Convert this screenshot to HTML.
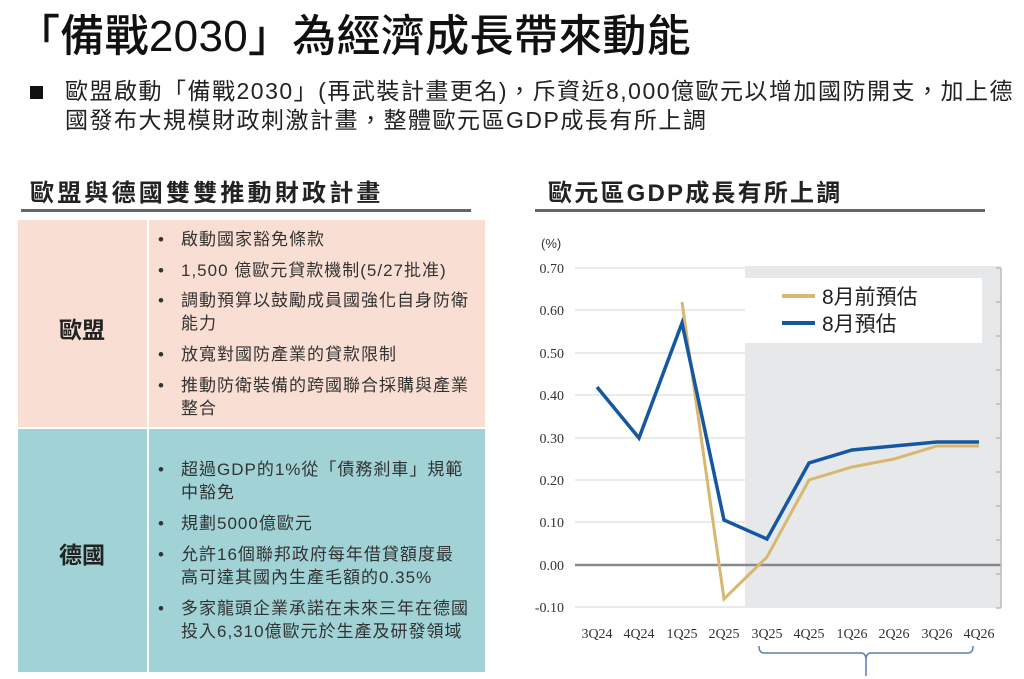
<!DOCTYPE html>
<html><head><meta charset="utf-8"><style>
body{margin:0;width:1024px;height:679px;background:#fff;position:relative;overflow:hidden;font-family:"Liberation Sans","Noto Sans CJK TC",sans-serif;color:#222}
.a{position:absolute;white-space:nowrap}
.b{position:absolute;left:158px;font-size:17px;line-height:23px;color:#333;letter-spacing:1px;white-space:nowrap}
.b span{position:absolute;left:0}
.b div{margin-left:23px}
</style></head><body>
<div class="a" style="left:16px;top:9px;font-size:44px;line-height:56px;color:#111;font-weight:500;letter-spacing:0.3px">「備戰2030」為經濟成長帶來動能</div>
<div class="a" style="left:30px;top:86px;width:13px;height:13px;background:#111"></div>
<div class="a" style="left:65px;top:77px;font-size:23px;line-height:29px;color:#222;letter-spacing:1.5px">歐盟啟動「備戰2030」(再武裝計畫更名)，斥資近8,000億歐元以增加國防開支，加上德<br>國發布大規模財政刺激計畫，整體歐元區GDP成長有所上調</div>

<div class="a" style="left:30px;top:173px;font-size:24px;font-weight:bold;color:#222;letter-spacing:3.2px">歐盟與德國雙雙推動財政計畫</div>
<div class="a" style="left:21px;top:209px;width:450px;height:3px;background:#666"></div>
<div class="a" style="left:548px;top:173px;font-size:24px;font-weight:bold;color:#222;letter-spacing:2.2px">歐元區GDP成長有所上調</div>
<div class="a" style="left:535px;top:209px;width:450px;height:3px;background:#666"></div>

<div class="a" style="left:18px;top:220px;width:129px;height:207px;background:#f9dfd3"></div>
<div class="a" style="left:149px;top:220px;width:336px;height:207px;background:#f9dfd3"></div>
<div class="a" style="left:18px;top:429px;width:129px;height:243px;background:#a0d2d6"></div>
<div class="a" style="left:149px;top:429px;width:336px;height:243px;background:#a0d2d6"></div>
<div class="a" style="left:59px;top:311px;font-size:23px;font-weight:bold;color:#222">歐盟</div>
<div class="a" style="left:59px;top:536px;font-size:23px;font-weight:bold;color:#222">德國</div>

<div class="b" style="top:228px"><span>•</span><div>啟動國家豁免條款</div></div>
<div class="b" style="top:259px"><span>•</span><div>1,500 億歐元貸款機制(5/27批准)</div></div>
<div class="b" style="top:289px"><span>•</span><div>調動預算以鼓勵成員國強化自身防衛<br>能力</div></div>
<div class="b" style="top:343px"><span>•</span><div>放寬對國防產業的貸款限制</div></div>
<div class="b" style="top:374px"><span>•</span><div>推動防衛裝備的跨國聯合採購與產業<br>整合</div></div>

<div class="b" style="top:458px"><span>•</span><div>超過GDP的1%從「債務剎車」規範<br>中豁免</div></div>
<div class="b" style="top:512px"><span>•</span><div>規劃5000億歐元</div></div>
<div class="b" style="top:543px"><span>•</span><div>允許16個聯邦政府每年借貸額度最<br>高可達其國內生產毛額的0.35%</div></div>
<div class="b" style="top:597px"><span>•</span><div>多家龍頭企業承諾在未來三年在德國<br>投入6,310億歐元於生產及研發領域</div></div>

<svg class="a" style="left:0;top:0" width="1024" height="679">
<rect x="745" y="266" width="256" height="342" fill="#e7e8ea"/>
<g stroke="#e3e3e3" stroke-width="1.5">
<line x1="575" y1="268" x2="745" y2="268"/><line x1="575" y1="310" x2="745" y2="310"/>
<line x1="575" y1="353" x2="745" y2="353"/><line x1="575" y1="395" x2="745" y2="395"/>
<line x1="575" y1="438" x2="745" y2="438"/><line x1="575" y1="480" x2="745" y2="480"/>
<line x1="575" y1="522" x2="745" y2="522"/><line x1="575" y1="607" x2="745" y2="607"/>
</g>
<rect x="745" y="278" width="237" height="65" fill="#fff"/>
<line x1="575" y1="565" x2="1001" y2="565" stroke="#888" stroke-width="2.5"/>
<line x1="1001" y1="268" x2="1001" y2="608" stroke="#bbb" stroke-width="1.5"/>
<g stroke="#bbb" stroke-width="1.5">
<line x1="996" y1="268" x2="1001" y2="268"/><line x1="996" y1="302" x2="1001" y2="302"/><line x1="996" y1="336" x2="1001" y2="336"/><line x1="996" y1="370" x2="1001" y2="370"/><line x1="996" y1="404" x2="1001" y2="404"/><line x1="996" y1="438" x2="1001" y2="438"/><line x1="996" y1="472" x2="1001" y2="472"/><line x1="996" y1="506" x2="1001" y2="506"/><line x1="996" y1="540" x2="1001" y2="540"/><line x1="996" y1="574" x2="1001" y2="574"/><line x1="996" y1="608" x2="1001" y2="608"/>
</g>
<g font-family="Liberation Serif,serif" font-size="14" fill="#333" text-anchor="end">
<text x="564" y="273">0.70</text><text x="564" y="315">0.60</text><text x="564" y="358">0.50</text><text x="564" y="400">0.40</text><text x="564" y="443">0.30</text><text x="564" y="485">0.20</text><text x="564" y="527">0.10</text><text x="564" y="570">0.00</text><text x="564" y="612">-0.10</text>
</g>
<text x="541" y="248" font-size="13" fill="#333">(%)</text>
<g font-family="Liberation Serif,serif" font-size="14" fill="#333" text-anchor="middle">
<text x="597" y="638">3Q24</text><text x="639" y="638">4Q24</text><text x="682" y="638">1Q25</text><text x="724" y="638">2Q25</text><text x="767" y="638">3Q25</text><text x="809" y="638">4Q25</text><text x="852" y="638">1Q26</text><text x="894" y="638">2Q26</text><text x="937" y="638">3Q26</text><text x="979" y="638">4Q26</text>
</g>
<polyline fill="none" stroke="#d8b86e" stroke-width="3" points="682,302 724,599 767,557 809,480 852,467 894,459 937,446 979,446"/>
<polyline fill="none" stroke="#15589f" stroke-width="3.5" points="597,387 639,438 682,323 724,520 767,539 809,463 852,450 894,446 937,442 979,442"/>
<line x1="782" y1="296" x2="815" y2="296" stroke="#d8b86e" stroke-width="4"/>
<line x1="782" y1="323" x2="815" y2="323" stroke="#15589f" stroke-width="4"/>
<text x="822" y="304" font-size="21" fill="#222">8月前預估</text>
<text x="822" y="331" font-size="21" fill="#222">8月預估</text>
<path d="M759,646 Q759,653 764,653 L861,653 Q866,653 866,660 L866,676 M866,660 Q866,653 871,653 L968,653 Q973,653 973,646" fill="none" stroke="#5b7fb5" stroke-width="1.5"/>
</svg>
</body></html>
